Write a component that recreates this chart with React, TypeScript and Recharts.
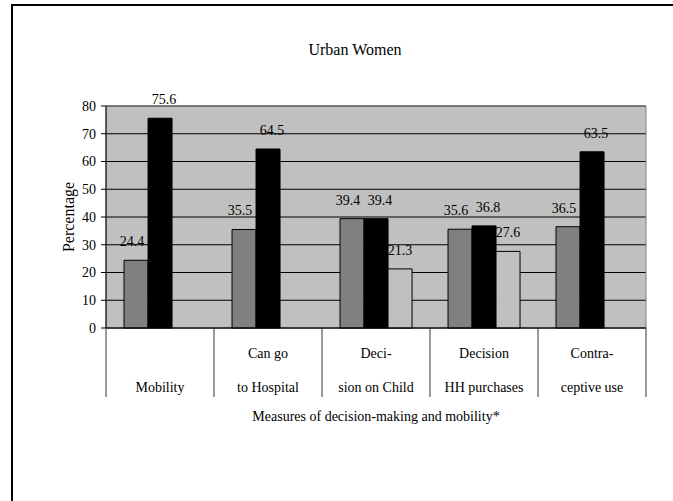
import React from 'react';
import { BarChart, Bar, XAxis, YAxis, CartesianGrid, LabelList, ReferenceArea, Label, Customized } from 'recharts';

const categories = ['Mobility', 'Can go to Hospital', 'Decision on Child', 'Decision HH purchases', 'Contraceptive use'];
const labelLine1 = ['', 'Can go', 'Deci-', 'Decision', 'Contra-'];
const labelLine2 = ['Mobility', 'to Hospital', 'sion on Child', 'HH purchases', 'ceptive use'];
const seriesGray = [24.4, 35.5, 39.4, 35.6, 36.5];
const seriesBlack = [75.6, 64.5, 39.4, 36.8, 63.5];
const seriesLight: (number | null)[] = [null, null, 21.3, 27.6, null];
const yTicks = [0, 10, 20, 30, 40, 50, 60, 70, 80];
const chartTitle = 'Urban Women';
const xTitle = 'Measures of decision-making and mobility*';
const yTitle = 'Percentage';

const data = categories.map((c, i) => ({
  category: c,
  gray: seriesGray[i],
  black: seriesBlack[i],
  light: seriesLight[i],
}));

const FONT = '"Liberation Serif", "Times New Roman", serif';

const CategoryTick = (props: any) => {
  const { x, y, payload, index } = props;
  const half = payload && payload.offset ? payload.offset : 54;
  const left = x - half;
  const right = x + half;
  return (
    <g>
      <line x1={left} y1={y} x2={left} y2={y + 69} stroke="#333" strokeWidth={1} />
      {index === categories.length - 1 && (
        <line x1={right} y1={y} x2={right} y2={y + 69} stroke="#333" strokeWidth={1} />
      )}
      <text x={x} y={y + 30} textAnchor="middle" fontSize={14} fill="#000">
        {labelLine1[index]}
      </text>
      <text x={x} y={y + 64} textAnchor="middle" fontSize={14} fill="#000">
        {labelLine2[index]}
      </text>
    </g>
  );
};

const Frame = () => (
  <g>
    <rect x={11} y={4} width={700} height={2} fill="#000" />
    <rect x={11} y={4} width={2} height={520} fill="#000" />
    <text x={355} y={55} textAnchor="middle" fontSize={16} fill="#000">
      {chartTitle}
    </text>
  </g>
);

const fmt = (v: any) => (v === null || v === undefined ? '' : v);

export default function App() {
  return (
    <div
      style={{
        position: 'fixed',
        left: 0,
        top: 0,
        width: 673,
        height: 501,
        background: '#fff',
        fontFamily: FONT,
      }}
    >
      <style>{`.chartbox svg text, .chartbox svg tspan { font-family: "Liberation Serif", "Times New Roman", serif !important; }`}</style>
      <div className="chartbox">
        <BarChart
          width={673}
          height={501}
          data={data}
          margin={{ top: 106, right: 27, bottom: 83, left: 66 }}
          barCategoryGap="16.7%"
          barGap={0}
        >
          <Customized component={<Frame />} />
          <CartesianGrid vertical={false} stroke="#000" fill="#c0c0c0" fillOpacity={1} />
          <ReferenceArea y1={0} y2={80} fill="none" stroke="#808080" strokeWidth={1} />
          <XAxis
            dataKey="category"
            height={90}
            interval={0}
            tickLine={false}
            tickSize={0}
            tickMargin={0}
            axisLine={{ stroke: '#000' }}
            tick={<CategoryTick />}
          >
            <Label
              content={(p: any) => {
                const vb = p.viewBox;
                return (
                  <text x={vb.x + vb.width / 2} y={vb.y + 93} textAnchor="middle" fontSize={14} fill="#000">
                    {xTitle}
                  </text>
                );
              }}
            />
          </XAxis>
          <YAxis
            width={40}
            domain={[0, 80]}
            ticks={yTicks}
            interval={0}
            tickSize={5}
            tickMargin={5}
            axisLine={{ stroke: '#000' }}
            tickLine={{ stroke: '#000' }}
            tick={{ fill: '#000', fontSize: 14 }}
          >
            <Label
              content={(p: any) => {
                const vb = p.viewBox;
                const cx = vb.x + 2;
                const cy = vb.y + vb.height / 2;
                return (
                  <text
                    x={cx}
                    y={cy}
                    transform={`rotate(-90, ${cx}, ${cy})`}
                    textAnchor="middle"
                    dominantBaseline="central"
                    fontSize={16}
                    fill="#000"
                  >
                    {yTitle}
                  </text>
                );
              }}
            />
          </YAxis>
          <Bar dataKey="gray" fill="#808080" stroke="#000" strokeWidth={1} isAnimationActive={false}>
            <LabelList dataKey="gray" position="top" offset={14} dx={-4} formatter={fmt} fill="#000" fontSize={14} />
          </Bar>
          <Bar dataKey="black" fill="#000000" stroke="#000" strokeWidth={1} isAnimationActive={false}>
            <LabelList dataKey="black" position="top" offset={14} dx={4} formatter={fmt} fill="#000" fontSize={14} />
          </Bar>
          <Bar dataKey="light" fill="#c0c0c0" stroke="#000" strokeWidth={1} isAnimationActive={false}>
            <LabelList dataKey="light" position="top" offset={14} formatter={fmt} fill="#000" fontSize={14} />
          </Bar>
        </BarChart>
      </div>
    </div>
  );
}
